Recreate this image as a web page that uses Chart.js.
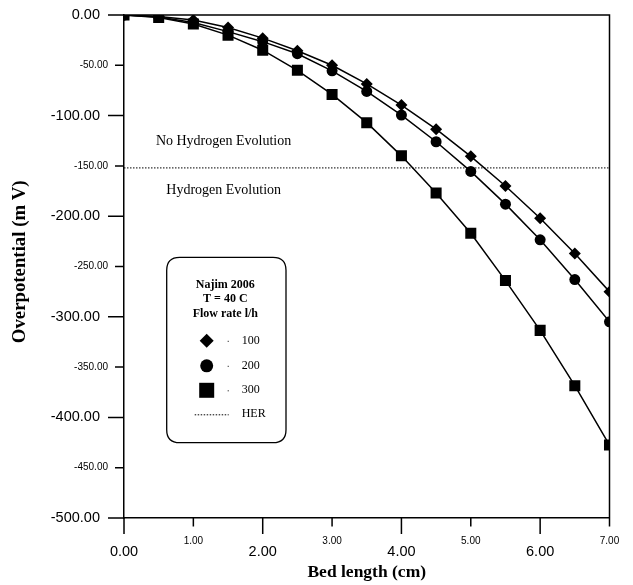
<!DOCTYPE html>
<html>
<head>
<meta charset="utf-8">
<script src="https://cdn.jsdelivr.net/npm/chart.js@4.4.1/dist/chart.umd.min.js"></script>
<style>
  html, body { margin: 0; padding: 0; background: #ffffff; }
  #wrap { width: 633px; height: 585px; }
</style>
</head>
<body>
<div id="wrap"><canvas id="chart" width="633" height="585"></canvas></div>
<script>
// Bed length positions along the electrode (cm)
const bedLength = [0, 0.5, 1, 1.5, 2, 2.5, 3, 3.5, 4, 4.5, 5, 5.5, 6, 6.5, 7];

// Overpotential (mV) for each flow rate (l/h)
const flow100 = [0, -1.5, -5, -12.5, -23, -35.5, -50, -68.5, -89.5, -113.5, -140.5, -170, -202, -237, -275];
const flow200 = [0, -2, -7.5, -16.5, -26.5, -38.5, -55.5, -76, -99.5, -126, -155.5, -188, -223.5, -263, -305];
const flow300 = [0, -2.5, -9, -20, -35, -55, -79, -107, -140, -177, -217, -264, -313.5, -368.5, -427.5];

// Hydrogen evolution reaction threshold (mV)
const herLevel = -152;

// Series labels and legend heading
const seriesLabels = ['100', '200', '300', 'HER'];
const legendHeading = ['Najim 2006', 'T = 40 C', 'Flow rate l/h'];

// Axis ranges / tick steps
const xRange = [0, 7];
const yRange = [-500, 0];
const xStep = 1;
const yStep = 50;

const SANS = "'Liberation Sans', Arial, Helvetica, sans-serif";
const SERIF = "'Liberation Serif', 'Times New Roman', Times, serif";

function pts(ys) { return bedLength.map((x, i) => ({ x: x, y: ys[i] })); }

const series = [
  { label: seriesLabels[0], values: flow100, style: 'rectRot', radius: 6 },
  { label: seriesLabels[1], values: flow200, style: 'circle', radius: 5.5 },
  { label: seriesLabels[2], values: flow300, style: 'rect', radius: 7.8 }
];

const datasets = series.map(s => ({
  label: s.label,
  data: pts(s.values),
  borderColor: '#000',
  backgroundColor: '#000',
  borderWidth: 1.5,
  pointStyle: s.style,
  pointRadius: s.radius,
  pointBorderWidth: 0,
  pointBackgroundColor: '#000',
  tension: 0,
  fill: false
}));

datasets.push({
  label: seriesLabels[3],
  data: [{ x: xRange[0], y: herLevel }, { x: xRange[1], y: herLevel }],
  borderColor: '#000',
  borderWidth: 1,
  borderDash: [1.5, 1.5],
  pointRadius: 0,
  tension: 0,
  fill: false,
  order: 10
});

// Frame on top/right and custom tick marks (long for major, short for minor)
const framePlugin = {
  id: 'frameTicks',
  afterDraw(chart) {
    const { ctx, chartArea: a, scales } = chart;
    ctx.save();
    ctx.strokeStyle = '#000';
    ctx.lineWidth = 1.5;
    ctx.beginPath();
    ctx.moveTo(a.left, a.top);
    ctx.lineTo(a.right, a.top);
    ctx.lineTo(a.right, a.bottom);
    ctx.stroke();

    const xs = scales.x, ys = scales.y;
    ctx.beginPath();
    xs.ticks.forEach(t => {
      const px = xs.getPixelForValue(t.value);
      const len = (Math.round(t.value) % 2 === 0) ? 16 : 8.5;
      ctx.moveTo(px, a.bottom);
      ctx.lineTo(px, a.bottom + len);
    });
    ys.ticks.forEach(t => {
      const py = ys.getPixelForValue(t.value);
      const len = (Math.round(t.value) % 100 === 0) ? 16 : 9;
      ctx.moveTo(a.left, py);
      ctx.lineTo(a.left - len, py);
    });
    ctx.stroke();
    ctx.restore();
  }
};

// Region captions either side of the HER threshold
const regionPlugin = {
  id: 'regionText',
  afterDatasetsDraw(chart, args, opts) {
    const { ctx, scales } = chart;
    ctx.save();
    ctx.fillStyle = '#000';
    ctx.font = '14px ' + SERIF;
    ctx.textAlign = 'left';
    ctx.textBaseline = 'middle';
    opts.items.forEach(it => {
      ctx.fillText(it.text, scales.x.getPixelForValue(it.x), scales.y.getPixelForValue(it.y));
    });
    ctx.restore();
  }
};

// Boxed legend inside the plot
const boxLegendPlugin = {
  id: 'boxLegend',
  afterDraw(chart, args, opts) {
    const { ctx, chartArea: a } = chart;
    const x0 = a.left + opts.left, y0 = a.top + opts.top;
    const w = opts.width, h = opts.height, r = 13;
    ctx.save();
    ctx.fillStyle = '#fff';
    ctx.strokeStyle = '#000';
    ctx.lineWidth = 1.3;
    ctx.beginPath();
    ctx.moveTo(x0 + r, y0);
    ctx.lineTo(x0 + w - r, y0);
    ctx.quadraticCurveTo(x0 + w, y0, x0 + w, y0 + r);
    ctx.lineTo(x0 + w, y0 + h - r);
    ctx.quadraticCurveTo(x0 + w, y0 + h, x0 + w - r, y0 + h);
    ctx.lineTo(x0 + r, y0 + h);
    ctx.quadraticCurveTo(x0, y0 + h, x0, y0 + h - r);
    ctx.lineTo(x0, y0 + r);
    ctx.quadraticCurveTo(x0, y0, x0 + r, y0);
    ctx.closePath();
    ctx.fill();
    ctx.stroke();

    ctx.fillStyle = '#000';
    ctx.textAlign = 'center';
    ctx.textBaseline = 'middle';
    ctx.font = 'bold 12px ' + SERIF;
    legendHeading.forEach((line, i) => {
      ctx.fillText(line, x0 + w / 2 - 1, y0 + 27.5 + i * 14.5);
    });

    const mx = x0 + 40, dotX = x0 + 61, tx = x0 + 75;
    const rowY = [y0 + 83.5, y0 + 108.5, y0 + 133, y0 + 157];
    ctx.font = '12px ' + SERIF;
    ctx.textAlign = 'left';
    chart.data.datasets.forEach((ds, i) => {
      const y = rowY[i];
      if (ds.pointRadius > 0) {
        ctx.beginPath();
        if (ds.pointStyle === 'rectRot') {
          const s = 7;
          ctx.moveTo(mx, y - s); ctx.lineTo(mx + s, y); ctx.lineTo(mx, y + s); ctx.lineTo(mx - s, y);
          ctx.closePath();
        } else if (ds.pointStyle === 'circle') {
          ctx.arc(mx, y, 6.5, 0, Math.PI * 2);
        } else {
          ctx.rect(mx - 7.5, y - 7.5, 15, 15);
        }
        ctx.fill();
        ctx.fillRect(dotX, y, 1, 1);
      } else {
        ctx.save();
        ctx.lineWidth = 1;
        ctx.setLineDash([1.5, 1.5]);
        ctx.beginPath();
        ctx.moveTo(x0 + 28, y + 0.5);
        ctx.lineTo(x0 + 62, y + 0.5);
        ctx.stroke();
        ctx.restore();
      }
      ctx.fillText(ds.label, tx, y);
    });
    ctx.restore();
  }
};

new Chart(document.getElementById('chart'), {
  type: 'line',
  data: { datasets: datasets },
  plugins: [framePlugin, regionPlugin, boxLegendPlugin],
  options: {
    responsive: false,
    animation: false,
    events: [],
    layout: { padding: { top: 15, right: 23.5, left: 0, bottom: 0 } },
    plugins: {
      legend: { display: false },
      tooltip: { enabled: false },
      regionText: {
        items: [
          { text: 'No Hydrogen Evolution', x: 0.46, y: -126 },
          { text: 'Hydrogen Evolution', x: 0.61, y: -174 }
        ]
      },
      boxLegend: { left: 42.7, top: 242.3, width: 119.3, height: 185.4 }
    },
    scales: {
      x: {
        type: 'linear',
        min: xRange[0],
        max: xRange[1],
        afterFit(scale) {
          scale.height = 67;
          scale.paddingLeft = 0;
          scale.paddingRight = 0;
        },
        border: { display: true, color: '#000', width: 1.5 },
        grid: { display: false, drawTicks: false },
        ticks: {
          stepSize: xStep,
          autoSkip: false,
          maxRotation: 0,
          padding: 17,
          color: '#000',
          callback: v => Number(v).toFixed(2),
          font: ctx => {
            const major = ctx.tick && Math.round(ctx.tick.value) % 2 === 0;
            return major
              ? { family: SANS, size: 14.5, lineHeight: 34 / 14.5 }
              : { family: SANS, size: 10, lineHeight: 1.2 };
          }
        },
        title: {
          display: true,
          text: 'Bed length (cm)',
          color: '#000',
          font: { family: SERIF, size: 17.5, weight: 'bold', lineHeight: 1.2 },
          padding: { top: 0, bottom: 2.5 }
        }
      },
      y: {
        type: 'linear',
        min: yRange[0],
        max: yRange[1],
        afterFit(scale) {
          scale.width = 124;
          scale.paddingTop = 0;
          scale.paddingBottom = 0;
        },
        border: { display: true, color: '#000', width: 1.5 },
        grid: { display: false, drawTicks: false },
        ticks: {
          stepSize: yStep,
          autoSkip: false,
          padding: 16,
          color: '#000',
          callback: v => {
            const s = Number(v).toFixed(2);
            return Math.round(v) % 100 === 0 ? s + '  ' : s;
          },
          font: ctx => {
            const major = ctx.tick && Math.round(ctx.tick.value) % 100 === 0;
            return { family: SANS, size: major ? 14.5 : 10 };
          }
        },
        title: {
          display: true,
          text: '  Overpotential (m V)',
          color: '#000',
          font: { family: SERIF, size: 18.8, weight: 'bold', lineHeight: 1.2 },
          padding: { top: 8.5, bottom: 0 }
        }
      }
    }
  }
});
</script>
</body>
</html>
